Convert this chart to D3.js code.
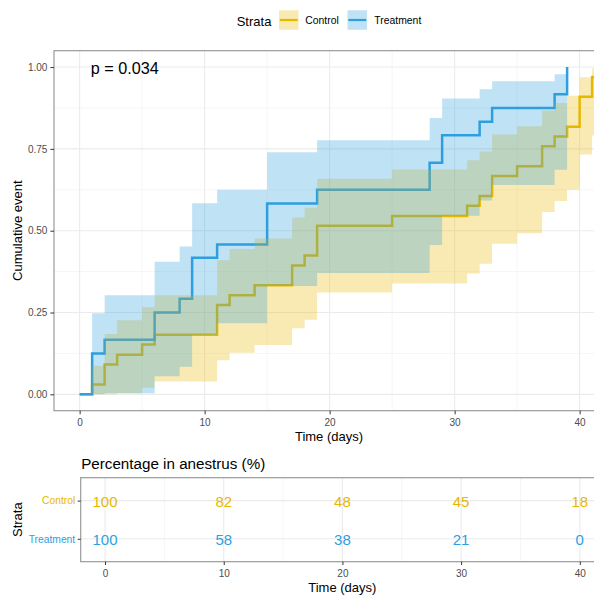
<!DOCTYPE html>
<html>
<head>
<meta charset="utf-8">
<script src="https://cdn.jsdelivr.net/npm/d3@7"></script>
<style>
  html, body { margin: 0; padding: 0; background: #fff; overflow: hidden; }
  svg { display: block; font-family: "Liberation Sans", Arial, Helvetica, sans-serif; }
</style>
</head>
<body>
<svg id="chart" width="594" height="595"></svg>
<script>
// ---- Kaplan-Meier cumulative event data (step times in days) ----
const strata = ["Control", "Treatment"];

const controlTimes  = [0, 1, 2, 3, 5, 6, 11, 12, 14, 17, 18, 19, 25, 31, 32, 33, 35, 37, 38, 39, 40, 41];
const controlEvent  = [0, 0.030, 0.091, 0.121, 0.152, 0.182, 0.273, 0.303, 0.333, 0.394, 0.424, 0.515, 0.545, 0.576, 0.606, 0.667, 0.697, 0.758, 0.788, 0.818, 0.909, 0.970];
const controlLower  = [0, 0, 0, 0.003, 0.020, 0.039, 0.104, 0.127, 0.151, 0.202, 0.228, 0.311, 0.339, 0.369, 0.399, 0.460, 0.492, 0.557, 0.591, 0.625, 0.733, 0.791];
const controlUpper  = [0, 0.087, 0.184, 0.226, 0.266, 0.303, 0.410, 0.444, 0.476, 0.540, 0.570, 0.659, 0.687, 0.715, 0.742, 0.794, 0.819, 0.867, 0.890, 0.912, 0.969, 0.996];
const controlFollowUpEnd = 43;

const treatmentTimes = [0, 1, 2, 6, 8, 9, 11, 15, 19, 28, 29, 32, 33, 38, 39];
const treatmentEvent = [0, 0.125, 0.167, 0.250, 0.292, 0.417, 0.458, 0.583, 0.625, 0.708, 0.792, 0.833, 0.875, 0.917, 1.000];
const treatmentLower = [0, 0, 0.003, 0.055, 0.084, 0.182, 0.217, 0.331, 0.371, 0.456, 0.546, 0.592, 0.640, 0.686, null];
const treatmentUpper = [0, 0.248, 0.303, 0.405, 0.452, 0.584, 0.625, 0.740, 0.776, 0.844, 0.904, 0.932, 0.957, 0.978, null];

const pValueLabel = "p = 0.034";

// ---- Risk table: percentage still in anestrus ----
const tableTimes     = [0, 10, 20, 30, 40];
const controlPct     = [100, 82, 48, 45, 18];
const treatmentPct   = [100, 58, 38, 21, 0];

// ---- Axis ticks ----
const xTicks      = [0, 10, 20, 30, 40];
const xMinorTicks = [5, 15, 25, 35];
const yTicks      = [0, 0.25, 0.5, 0.75, 1];
const yMinorTicks = [0.125, 0.375, 0.625, 0.875];

// ---- Styling ----
const colors = { Control: "#E7B800", Treatment: "#2E9FDF" };
const tickText = "#4d4d4d";
const borderColor = "#9a9a9a";

const svg = d3.select("#chart");

// ===== Main survival panel =====
const P = { left: 54, top: 50.7, right: 604, bottom: 410.7 };
const x = d3.scaleLinear().domain([-2.05, 41.95]).range([P.left, P.right]);
const y = d3.scaleLinear().domain([-0.05, 1.05]).range([P.bottom, P.top]);

svg.append("defs").append("clipPath").attr("id", "mainClip")
  .append("rect").attr("x", P.left).attr("y", P.top)
  .attr("width", P.right - P.left).attr("height", P.bottom - P.top);

const main = svg.append("g");
const grid = main.append("g");

// minor grid
grid.selectAll("line.vminor").data(xMinorTicks).join("line")
  .attr("x1", d => x(d)).attr("x2", d => x(d)).attr("y1", P.top).attr("y2", P.bottom)
  .attr("stroke", "#f2f2f2").attr("stroke-width", 0.8);
grid.selectAll("line.hminor").data(yMinorTicks).join("line")
  .attr("x1", P.left).attr("x2", P.right).attr("y1", d => y(d)).attr("y2", d => y(d))
  .attr("stroke", "#f2f2f2").attr("stroke-width", 0.8);
// major grid
grid.selectAll("line.vmajor").data(xTicks).join("line")
  .attr("x1", d => x(d)).attr("x2", d => x(d)).attr("y1", P.top).attr("y2", P.bottom)
  .attr("stroke", "#ebebeb").attr("stroke-width", 1.1);
grid.selectAll("line.hmajor").data(yTicks).join("line")
  .attr("x1", P.left).attr("x2", P.right).attr("y1", d => y(d)).attr("y2", d => y(d))
  .attr("stroke", "#ebebeb").attr("stroke-width", 1.1);

// build step series
function buildSeries(times, ev, lo, hi, endTime) {
  const line = times.map((t, i) => ({ t, v: ev[i] }));
  const band = [];
  let last = null;
  for (let i = 0; i < times.length; i++) {
    if (lo[i] == null || hi[i] == null) {
      if (last) band.push({ t: times[i], lo: last.lo, hi: last.hi });
      last = null;
      break;
    }
    last = { t: times[i], lo: lo[i], hi: hi[i] };
    band.push(last);
  }
  if (endTime != null) {
    const lp = line[line.length - 1];
    line.push({ t: endTime, v: lp.v });
    if (last) band.push({ t: endTime, lo: last.lo, hi: last.hi });
  }
  return { line, band };
}

const series = {
  Control: buildSeries(controlTimes, controlEvent, controlLower, controlUpper, controlFollowUpEnd),
  Treatment: buildSeries(treatmentTimes, treatmentEvent, treatmentLower, treatmentUpper, null)
};

const stepLine = d3.line().x(d => x(d.t)).y(d => y(d.v)).curve(d3.curveStepAfter);
const stepArea = d3.area().x(d => x(d.t)).y0(d => y(d.lo)).y1(d => y(d.hi)).curve(d3.curveStepAfter);

const plotArea = main.append("g").attr("clip-path", "url(#mainClip)");

// curves first, confidence ribbons laid over them
strata.forEach(s => {
  plotArea.append("path").datum(series[s].line)
    .attr("d", stepLine).attr("fill", "none")
    .attr("stroke", colors[s]).attr("stroke-width", 2.5)
    .attr("stroke-linejoin", "miter").attr("stroke-linecap", "butt");
});
strata.forEach(s => {
  plotArea.append("path").datum(series[s].band)
    .attr("d", stepArea).attr("fill", colors[s]).attr("fill-opacity", 0.3)
    .attr("stroke", "none");
});

// panel border
main.append("rect").attr("x", P.left).attr("y", P.top)
  .attr("width", P.right - P.left).attr("height", P.bottom - P.top)
  .attr("fill", "none").attr("stroke", borderColor).attr("stroke-width", 1.2);

// axes
function styleAxis(g) {
  g.select(".domain").remove();
  g.selectAll(".tick line").attr("stroke", "#333").attr("stroke-width", 1);
  g.selectAll(".tick text").attr("fill", tickText).style("font-size", "10px")
    .style("font-family", '"Liberation Sans", Arial, Helvetica, sans-serif');
}
main.append("g").attr("transform", `translate(${P.left},0)`)
  .call(d3.axisLeft(y).tickValues(yTicks).tickFormat(d3.format(".2f")).tickSize(3.6).tickPadding(3))
  .call(styleAxis);
main.append("g").attr("transform", `translate(0,${P.bottom})`)
  .call(d3.axisBottom(x).tickValues(xTicks).tickFormat(d3.format("d")).tickSize(3.6).tickPadding(4.6))
  .call(styleAxis);

// titles
main.append("text").attr("transform", `translate(21.5,${(P.top + P.bottom) / 2}) rotate(-90)`)
  .attr("text-anchor", "middle").style("font-size", "13px").attr("fill", "#000")
  .text("Cumulative event");
main.append("text").attr("x", 329).attr("y", 441)
  .attr("text-anchor", "middle").style("font-size", "13px").attr("fill", "#000")
  .text("Time (days)");
main.append("text").attr("x", 90.8).attr("y", 73.6)
  .style("font-size", "16.2px").attr("fill", "#000")
  .text(pValueLabel);

// ===== Legend =====
const legend = svg.append("g");
legend.append("text").attr("x", 236.7).attr("y", 25.5)
  .style("font-size", "13px").attr("fill", "#000").text("Strata");
const legendItems = [
  { s: "Control", kx: 279, tx: 305.3 },
  { s: "Treatment", kx: 347.5, tx: 374.3 }
];
legendItems.forEach(it => {
  legend.append("rect").attr("x", it.kx).attr("y", 10.3).attr("width", 19.5).attr("height", 19.5)
    .attr("fill", colors[it.s]).attr("fill-opacity", 0.3);
  legend.append("line").attr("x1", it.kx + 0.8).attr("x2", it.kx + 18.7)
    .attr("y1", 20).attr("y2", 20).attr("stroke", colors[it.s]).attr("stroke-width", 2.2);
  legend.append("text").attr("x", it.tx).attr("y", 24.3)
    .style("font-size", "10.4px").attr("fill", "#000").text(it.s);
});

// ===== Risk table panel =====
const T = { left: 80.7, top: 477.7, right: 604, bottom: 561.7 };
const tx = d3.scaleLinear().domain([-2.05, 42.04]).range([T.left, T.right]);
const ty = d3.scalePoint().domain(strata).range([T.top, T.bottom]).padding(0.6);

const table = svg.append("g");
table.append("text").attr("x", 81.2).attr("y", 468.5)
  .style("font-size", "15.2px").attr("fill", "#000").text("Percentage in anestrus (%)");

table.selectAll("line.tvminor").data(xMinorTicks).join("line")
  .attr("x1", d => tx(d)).attr("x2", d => tx(d)).attr("y1", T.top).attr("y2", T.bottom)
  .attr("stroke", "#f2f2f2").attr("stroke-width", 0.8);
table.selectAll("line.tvmajor").data(xTicks).join("line")
  .attr("x1", d => tx(d)).attr("x2", d => tx(d)).attr("y1", T.top).attr("y2", T.bottom)
  .attr("stroke", "#ebebeb").attr("stroke-width", 1.1);
table.selectAll("line.thmajor").data(strata).join("line")
  .attr("x1", T.left).attr("x2", T.right).attr("y1", d => ty(d)).attr("y2", d => ty(d))
  .attr("stroke", "#ebebeb").attr("stroke-width", 1.1);

const tableRows = [
  { s: "Control", vals: controlPct },
  { s: "Treatment", vals: treatmentPct }
];
tableRows.forEach(r => {
  table.selectAll(null).data(tableTimes).join("text")
    .attr("x", d => tx(d)).attr("y", ty(r.s) + 1)
    .attr("text-anchor", "middle").attr("dominant-baseline", "central")
    .style("font-size", "15px").attr("fill", colors[r.s])
    .text((d, i) => r.vals[i]);
});

table.append("rect").attr("x", T.left).attr("y", T.top)
  .attr("width", T.right - T.left).attr("height", T.bottom - T.top)
  .attr("fill", "none").attr("stroke", borderColor).attr("stroke-width", 1.2);

const tyAxis = table.append("g").attr("transform", `translate(${T.left},0)`)
  .call(d3.axisLeft(ty).tickSize(3).tickPadding(2.5))
  .call(styleAxis);
tyAxis.selectAll(".tick text").style("font-size", "10.3px").attr("fill", d => colors[d]);

table.append("g").attr("transform", `translate(0,${T.bottom})`)
  .call(d3.axisBottom(tx).tickValues(xTicks).tickFormat(d3.format("d")).tickSize(3.3).tickPadding(4.6))
  .call(styleAxis);

table.append("text").attr("transform", `translate(21.5,${(T.top + T.bottom) / 2}) rotate(-90)`)
  .attr("text-anchor", "middle").style("font-size", "13px").attr("fill", "#000")
  .text("Strata");
table.append("text").attr("x", 342.3).attr("y", 591.5)
  .attr("text-anchor", "middle").style("font-size", "13px").attr("fill", "#000")
  .text("Time (days)");
</script>
</body>
</html>
